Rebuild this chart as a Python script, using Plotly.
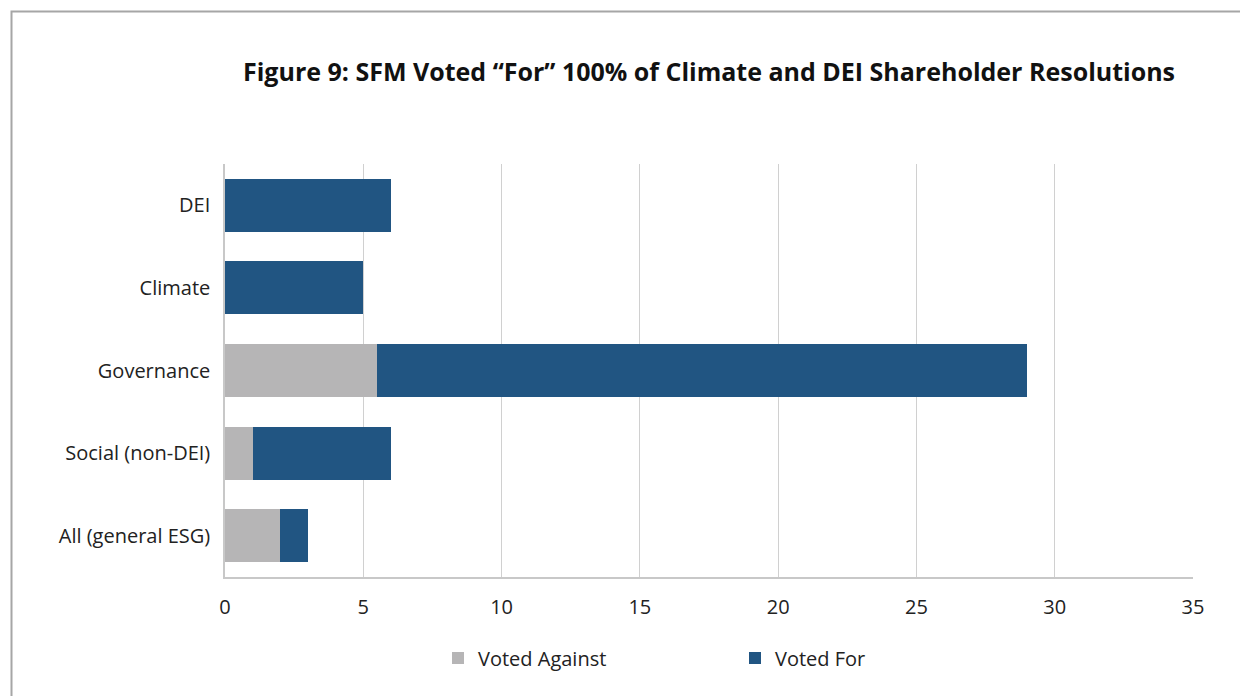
import plotly.graph_objects as go

categories = ["All (general ESG)", "Social (non-DEI)", "Governance", "Climate", "DEI"]
voted_against = [2, 1, 5.5, 0, 0]
voted_for = [1, 5, 23.5, 5, 6]
x_ticks = [0, 5, 10, 15, 20, 25, 30, 35]
title_text = "Figure 9: SFM Voted \u201cFor\u201d 100% of Climate and DEI Shareholder Resolutions"

FONT = "Open Sans"
OFF = 8  # page body margin

fig = go.Figure()
fig.add_trace(go.Bar(y=categories, x=voted_against, orientation="h", name="Voted Against",
                     marker=dict(color="#b6b5b6", line=dict(width=0))))
fig.add_trace(go.Bar(y=categories, x=voted_for, orientation="h", name="Voted For",
                     marker=dict(color="#215582", line=dict(width=0))))

W, H = 1248 - OFF, 696 - OFF
L = 225 - OFF
T = 164 - OFF
R = W - (1193 - OFF)
B = H - (577 - OFF)
pw, ph = W - L - R, H - T - B

def px_to_paper_x(px):
    return (px - OFF - L) / pw

def px_to_paper_y(py):
    return (H - B - (py - OFF)) / ph

fig.update_layout(
    width=W, height=H,
    barmode="stack", bargap=0.36,
    margin=dict(l=L, r=R, t=T, b=B),
    paper_bgcolor="white", plot_bgcolor="white",
    font=dict(family=FONT, size=19, color="#222222"),
    title=dict(text="<b>" + title_text + "</b>", x=(709 - OFF) / W, xref="container", xanchor="center",
               y=1 - (72 - OFF) / H, yref="container", yanchor="middle",
               font=dict(family=FONT, size=25, color="#111111")),
    xaxis=dict(range=[0, 35], tickvals=x_ticks, showgrid=True, gridcolor="#d0d0d0", gridwidth=1,
               zeroline=False, showline=True, linecolor="#c8c8c8", linewidth=1.5,
               ticks="", tickfont=dict(size=20, color="#222222"), ticklabelstandoff=11),
    yaxis=dict(showgrid=False, zeroline=False, showline=True, linecolor="#c8c8c8", linewidth=1.5,
               ticks="", tickfont=dict(size=20, color="#222222"), ticklabelstandoff=9),
    legend=dict(orientation="h", x=px_to_paper_x(438), xanchor="left", y=px_to_paper_y(658),
                yanchor="middle", entrywidth=252, entrywidthmode="pixels",
                font=dict(size=20, color="#222222"), traceorder="normal"),
    showlegend=True,
)

fig.add_shape(type="rect", xref="paper", yref="paper",
              x0=px_to_paper_x(11.5), x1=px_to_paper_x(1300),
              y0=px_to_paper_y(750), y1=px_to_paper_y(11.5),
              line=dict(color="#a6a6a6", width=2), fillcolor="rgba(0,0,0,0)", layer="below")

fig.write_html("out.html")
